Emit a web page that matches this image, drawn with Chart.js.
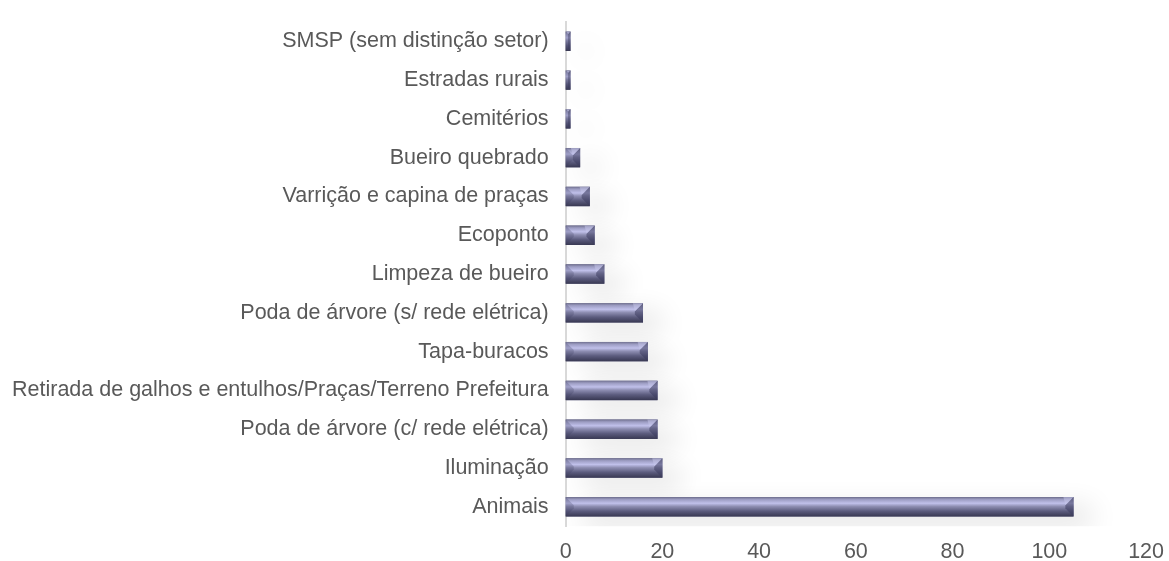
<!DOCTYPE html>
<html>
<head>
<meta charset="utf-8">
<script src="https://cdn.jsdelivr.net/npm/chart.js@4/dist/chart.umd.min.js"></script>
<style>
  html, body { margin: 0; padding: 0; background: #fff; }
  #wrap { width: 1169px; height: 561px; }
</style>
</head>
<body>
<div id="wrap"><canvas id="chart"></canvas></div>
<script>
const categories = [
  'SMSP (sem distinção setor)',
  'Estradas rurais',
  'Cemitérios',
  'Bueiro quebrado',
  'Varrição e capina de praças',
  'Ecoponto',
  'Limpeza de bueiro',
  'Poda de árvore (s/ rede elétrica)',
  'Tapa-buracos',
  'Retirada de galhos e entulhos/Praças/Terreno Prefeitura',
  'Poda de árvore (c/ rede elétrica)',
  'Iluminação',
  'Animais'
]
const values = [1, 1, 1, 3, 5, 6, 8, 16, 17, 19, 19, 20, 105]
const xTicks = [0, 20, 40, 60, 80, 100, 120]

// bevel look drawn over each bar the library placed
const bevelPlugin = {
  id: 'bevel',
  beforeDatasetsDraw(chart) {
    const ctx = chart.ctx
    ctx.save()
    ctx.shadowColor = 'rgba(0,0,0,0.12)'
    ctx.shadowBlur = 28
    ctx.shadowOffsetX = 18
    ctx.shadowOffsetY = 10
  },
  afterDatasetsDraw(chart) {
    const ctx = chart.ctx
    ctx.restore()
    chart.getDatasetMeta(0).data.forEach((bar) => {
      const h = bar.height
      const top = bar.y - h / 2
      const w = bar.x - bar.base
      const b = Math.min(h * 0.42, w / 2)
      ctx.save()
      const g = ctx.createLinearGradient(0, top, 0, top + h)
      g.addColorStop(0, '#70708f')
      g.addColorStop(0.12, '#9c9cc2')
      g.addColorStop(0.32, '#c0c0ea')
      g.addColorStop(0.48, '#8e8eb2')
      g.addColorStop(0.72, '#5c5c7e')
      g.addColorStop(1, '#383852')
      ctx.fillStyle = g
      ctx.fillRect(bar.base, top, w, h)
      // right end facets
      ctx.beginPath()
      ctx.moveTo(bar.x, top)
      ctx.lineTo(bar.x, top + h)
      ctx.lineTo(bar.x - b, top + h - b)
      ctx.lineTo(bar.x - b, top + b)
      ctx.closePath()
      ctx.fillStyle = 'rgba(60,60,95,0.55)'
      ctx.fill()
      ctx.beginPath()
      ctx.moveTo(bar.x, top)
      ctx.lineTo(bar.x - b, top + b)
      ctx.lineTo(bar.x - b - 2, top)
      ctx.closePath()
      ctx.fillStyle = 'rgba(200,200,235,0.5)'
      ctx.fill()
      // left end facet
      ctx.beginPath()
      ctx.moveTo(bar.base, top)
      ctx.lineTo(bar.base + b, top + b)
      ctx.lineTo(bar.base + b, top + h - b)
      ctx.lineTo(bar.base, top + h)
      ctx.closePath()
      ctx.fillStyle = 'rgba(60,60,95,0.25)'
      ctx.fill()
      ctx.restore()
    })
  }
}

new Chart(document.getElementById('chart'), {
  type: 'bar',
  data: {
    labels: categories,
    datasets: [{
      data: values,
      backgroundColor: '#6a6a8c',
      borderWidth: 0,
      categoryPercentage: 1,
      barPercentage: 0.5
    }]
  },
  plugins: [bevelPlugin],
  options: {
    indexAxis: 'y',
    responsive: true,
    maintainAspectRatio: false,
    animation: false,
    layout: { padding: { top: 7, right: -2, bottom: -9, left: 3 } },
    plugins: { legend: { display: false }, tooltip: { enabled: false } },
    scales: {
      x: {
        min: 0,
        max: 120,
        afterBuildTicks: (axis) => { axis.ticks = xTicks.map((v) => ({ value: v })) },
        grid: { display: false },
        border: { display: false },
        ticks: { color: '#595959', font: { family: 'Liberation Sans', size: 21.5 }, padding: 5 }
      },
      y: {
        grid: { display: false },
        border: { display: true, color: '#d9d9d9', width: 2 },
        ticks: { color: '#595959', font: { family: 'Liberation Sans', size: 21.5 }, padding: 9 }
      }
    }
  }
})
</script>
</body>
</html>
